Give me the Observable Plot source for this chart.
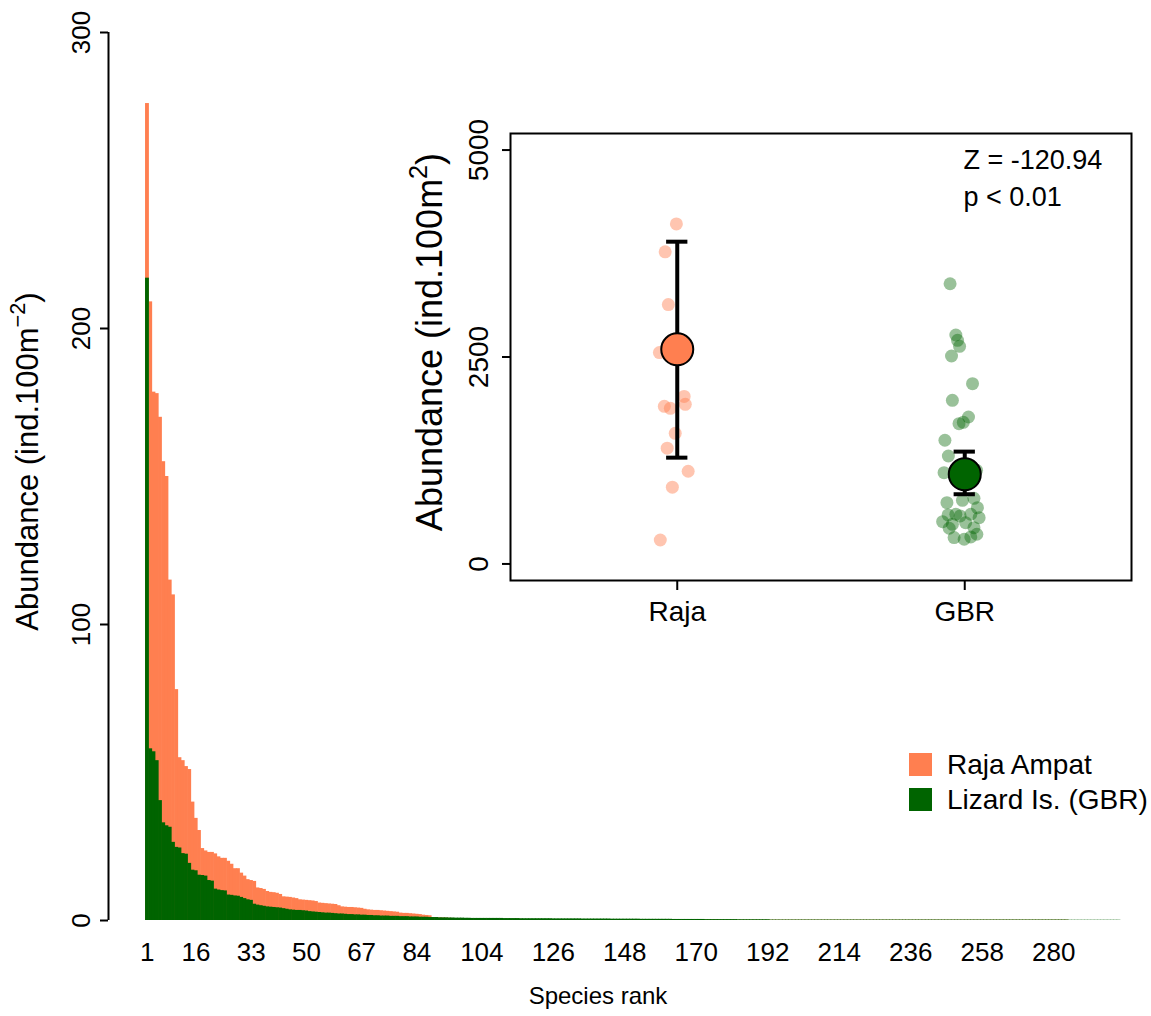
<!DOCTYPE html>
<html><head><meta charset="utf-8">
<script src="https://cdn.jsdelivr.net/npm/d3@7"></script>
<script src="https://cdn.jsdelivr.net/npm/@observablehq/plot@0.6"></script>
<style>
body{margin:0;background:#fff;}
#wrap{position:relative;width:1151px;height:1016px;font-family:"Liberation Sans",Arial,Helvetica,sans-serif;}
#wrap svg{position:absolute;left:0;top:0;}
#legend{position:absolute;left:909px;top:747px;font-size:28px;color:#000;}
#legend .row{display:flex;align-items:center;height:35px;}
#legend .sw{width:23px;height:23px;margin-right:15px;}
</style></head><body><div id="wrap"></div>
<script>
// ---------------- data ----------------
const rankTickLabels = [1, 16, 33, 50, 67, 84, 104, 126, 148, 170, 192, 214, 236, 258, 280];

const rajaAbundance = [
  276, 209, 178.5, 178, 170, 155, 150, 115, 110, 78,
  55, 54, 52, 51, 40, 34.5, 30.4, 24.3, 23.5, 23,
  23, 22.5, 21.5, 21, 21, 20, 19, 17.5, 17.5, 16,
  15, 13.8, 13.5, 13.2, 11, 10.8, 10.5, 9.8, 9.5, 9.4,
  9.2, 8.8, 8, 7.9, 7.8, 7.6, 7.4, 7, 6.9, 6.8,
  6.7, 6.6, 6.4, 5.9, 5.8, 5.7, 5.6, 5.5, 5.4, 5,
  4.6, 4.5, 4.4, 4.4, 4.3, 4.2, 4.1, 3.8, 3.6, 3.5,
  3.4, 3.4, 3.3, 3.2, 3.1, 3, 2.9, 2.8, 2.5, 2.4,
  2.4, 2.3, 2.2, 2.1, 2, 1.8, 1.7, 1.6, 1, 0.95,
  0.9, 0.85, 0.8, 0.75, 0.7, 0.65, 0.6, 0.6, 0.55, 0.55,
  0.5, 0.5, 0.5, 0.45, 0.45, 0.45, 0.4, 0.4, 0.4, 0.4,
  0.4, 0.4, 0.4, 0.4, 0.4, 0.4, 0.35, 0.35, 0.35, 0.35,
  0.35, 0.35, 0.35, 0.35, 0.35, 0.35, 0.3, 0.3, 0.3, 0.3,
  0.3, 0.3, 0.3, 0.3, 0.3, 0.3, 0.25, 0.25, 0.25, 0.25,
  0.25, 0.25, 0.25, 0.25, 0.25, 0.25, 0.2, 0.2, 0.2, 0.2,
  0.2, 0.2, 0.2, 0.2, 0.2, 0.2, 0.15, 0.15, 0.15, 0.15,
  0.15, 0.15, 0.15, 0.15, 0.15, 0.15, 0.15, 0.15, 0.15, 0.15,
  0.15, 0.15, 0.15, 0.15, 0.15, 0.15, 0.1, 0.1, 0.1, 0.1,
  0.1, 0.1, 0.1, 0.1, 0.1, 0.1, 0.1, 0.1, 0.1, 0.1,
  0.1, 0.1, 0.1, 0.1, 0.1, 0.1, 0.1, 0.1, 0.1, 0.1,
  0.1, 0.1, 0.1, 0.1, 0.1, 0.1, 0.1, 0.1, 0.1, 0.1,
  0.1, 0.1, 0.1, 0.1, 0.1, 0.1, 0.1, 0.1, 0.1, 0.1,
  0.1, 0.1, 0.1, 0.1, 0.1, 0.1, 0.1, 0.1, 0.1, 0.1,
  0.1, 0.1, 0.1, 0.1, 0.1, 0.1, 0.1, 0.1, 0.1, 0.1,
  0.1, 0.1, 0.1, 0.1, 0.1, 0.1, 0.1, 0.1, 0.1, 0.1,
  0.1, 0.1, 0.1, 0.1, 0.1, 0.1, 0.1, 0.1, 0.1, 0.1,
  0.1, 0.1, 0.1, 0.1, 0.1, 0.1, 0.1, 0.1, 0.1, 0.1,
  0.1, 0.1, 0.1, 0.1, 0.1, 0.1, 0.1, 0.1, 0.1, 0.1,
  0.1, 0.1, 0.1, 0.1, 0, 0, 0, 0, 0, 0,
  0, 0, 0, 0, 0, 0, 0, 0, 0, 0
];

const gbrAbundance = [
  217, 58, 57, 54, 40.5, 33, 32, 31.5, 26.4, 24.7,
  24.5, 22.6, 22.4, 19.3, 17, 16.8, 15.3, 15.2, 15, 13.5,
  13.3, 10.6, 10.3, 10.1, 10, 8.6, 8.5, 8.3, 8.2, 7.8,
  7.4, 7, 6.8, 5.5, 5.2, 5, 4.8, 4.6, 4.5, 4.4,
  4.3, 4.2, 4, 3.8, 3.6, 3.5, 3.4, 3.4, 3.3, 3.2,
  3, 2.9, 2.8, 2.7, 2.6, 2.5, 2.5, 2.4, 2.3, 2.2,
  2.2, 2.1, 2, 2, 1.9, 1.9, 1.8, 1.8, 1.7, 1.7,
  1.6, 1.6, 1.5, 1.5, 1.5, 1.4, 1.4, 1.4, 1.3, 1.3,
  1.3, 1.2, 1.2, 1.2, 1.1, 1.1, 1.1, 1, 1, 1,
  0.9, 0.9, 0.9, 0.85, 0.85, 0.8, 0.8, 0.8, 0.75, 0.75,
  0.7, 0.7, 0.7, 0.7, 0.7, 0.7, 0.7, 0.7, 0.7, 0.7,
  0.65, 0.65, 0.65, 0.65, 0.65, 0.6, 0.6, 0.6, 0.6, 0.6,
  0.6, 0.6, 0.6, 0.6, 0.6, 0.55, 0.55, 0.55, 0.55, 0.55,
  0.55, 0.55, 0.55, 0.55, 0.5, 0.5, 0.5, 0.5, 0.5, 0.5,
  0.5, 0.5, 0.5, 0.45, 0.45, 0.45, 0.45, 0.45, 0.45, 0.45,
  0.45, 0.45, 0.4, 0.4, 0.4, 0.4, 0.4, 0.4, 0.4, 0.4,
  0.4, 0.4, 0.35, 0.35, 0.35, 0.35, 0.35, 0.35, 0.35, 0.35,
  0.35, 0.35, 0.3, 0.3, 0.3, 0.3, 0.3, 0.3, 0.3, 0.3,
  0.3, 0.3, 0.25, 0.25, 0.25, 0.25, 0.25, 0.25, 0.25, 0.25,
  0.25, 0.25, 0.15, 0.15, 0.15, 0.15, 0.15, 0.15, 0.15, 0.15,
  0.15, 0.15, 0.15, 0.15, 0.15, 0.15, 0.15, 0.15, 0.15, 0.15,
  0.15, 0.15, 0.15, 0.15, 0.15, 0.15, 0.15, 0.15, 0.15, 0.15,
  0.15, 0.15, 0.15, 0.15, 0.15, 0.15, 0.15, 0.15, 0.15, 0.15,
  0.15, 0.15, 0.15, 0.15, 0.15, 0.15, 0.15, 0.15, 0.15, 0.15,
  0.15, 0.15, 0.15, 0.15, 0.15, 0.15, 0.15, 0.15, 0.15, 0.15,
  0.15, 0.15, 0.15, 0.15, 0.15, 0.15, 0.15, 0.15, 0.15, 0.15,
  0.15, 0.15, 0.15, 0.15, 0.15, 0.15, 0.15, 0.15, 0.15, 0.15,
  0.15, 0.15, 0.15, 0.15, 0.15, 0.15, 0.15, 0.15, 0.15, 0.15,
  0.15, 0.15, 0.15, 0.15, 0.08, 0.08, 0.08, 0.08, 0.08, 0.08,
  0.08, 0.08, 0.08, 0.08, 0.08, 0.08, 0.08, 0.08, 0.08, 0.08
];

const seriesNames = ["Raja Ampat", "Lizard Is. (GBR)"];
const seriesColors = ["#FF7F50", "#006400"];

// inset
const groupLabels = ["Raja", "GBR"];
const rajaSiteAbundance = [4108, 3771, 3133, 2554, 2024, 1904, 1880, 1928, 1578, 1398, 1120, 928, 289];
const rajaJitterX = [0.997, 0.958, 0.969, 0.938, 1.024, 0.955, 0.976, 1.028, 0.993, 0.965, 1.038, 0.983, 0.941];
const gbrSiteAbundance = [3385, 2766, 2702, 2629, 2512, 2178, 1977, 1775, 1711, 1695, 1494, 1304, 1103, 1132,
  740, 793, 769, 680, 600, 580, 592, 600, 559, 511, 479, 499, 438, 431, 359, 326, 318, 298];
const gbrJitterX = [1.949, 1.969, 1.975, 1.982, 1.954, 2.027, 1.957, 2.013, 1.995, 1.980, 1.931, 1.943, 1.928, 2.041,
  1.938, 2.032, 1.992, 2.044, 1.969, 1.984, 1.942, 2.021, 2.050, 1.923, 1.957, 2.003, 2.032, 1.946, 2.042, 2.021, 1.963, 1.998];
const groupMean = [2593, 1083];
const groupLower = [1284, 842];
const groupUpper = [3893, 1357];
const statsLines = ["Z = -120.94", "p < 0.01"];

// ---------------- build ----------------
const FONT = '"Liberation Sans", Arial, Helvetica, sans-serif';
const rajaRows = rajaAbundance.map((v, i) => ({rank: i + 1, value: v}));
const gbrRows = gbrAbundance.map((v, i) => ({rank: i + 1, value: v}));
const xDomain = [-11.4, 309.6];
const yMax = 300;

function superscriptify(svg, full, base, sup, tail, fs) {
  svg.querySelectorAll("text").forEach(t => {
    if (t.textContent === full) {
      while (t.firstChild) t.removeChild(t.firstChild);
      t.appendChild(document.createTextNode(base));
      const s = document.createElementNS("http://www.w3.org/2000/svg", "tspan");
      s.setAttribute("dy", (-0.42 * fs) + "px");
      s.setAttribute("font-size", (0.7 * fs) + "px");
      s.textContent = sup;
      t.appendChild(s);
      const r = document.createElementNS("http://www.w3.org/2000/svg", "tspan");
      r.setAttribute("dy", (0.42 * fs) + "px");
      r.textContent = tail;
      t.appendChild(r);
    }
  });
}

const main = Plot.plot({
  width: 1151, height: 1016,
  marginLeft: 108, marginRight: 0, marginTop: 32, marginBottom: 96,
  style: {fontFamily: FONT, background: "transparent", color: "#000"},
  x: {domain: xDomain, axis: null},
  y: {domain: [0, yMax], axis: null},
  marks: [
    Plot.rect(rajaRows, {x1: d => d.rank - 1, x2: d => d.rank, y1: d => 0, y2: "value", fill: seriesColors[0], insetRight: -0.6}),
    Plot.rect(gbrRows, {x1: d => d.rank - 1, x2: d => d.rank, y1: d => 0, y2: "value", fill: seriesColors[1], insetRight: -0.6}),
    Plot.ruleX([xDomain[0]], {y1: 0, y2: yMax, strokeWidth: 2}),
    Plot.axisY({ticks: [0, 100, 200, 300], tickSize: 8, tickPadding: 11, tickRotate: -90, fontSize: 26, strokeWidth: 2, label: null}),
    Plot.text(rankTickLabels, {x: d => d - 0.5, frameAnchor: "bottom", dy: 40, text: d => String(d), fontSize: 26}),
    Plot.text(["Species rank"], {frameAnchor: "bottom", dx: -32, dy: 83, text: d => d, fontSize: 24}),
    Plot.text(["Abundance (ind.100m−2)"], {frameAnchor: "left", textAnchor: "middle", rotate: -90, dx: -80, dy: -15, text: d => d, fontSize: 31})
  ]
});
superscriptify(main, "Abundance (ind.100m−2)", "Abundance (ind.100m", "−2", ")", 31);

const rajaPts = rajaSiteAbundance.map((v, i) => ({x: rajaJitterX[i], v}));
const gbrPts = gbrSiteAbundance.map((v, i) => ({x: gbrJitterX[i], v}));
const summary = groupLabels.map((g, i) => ({x: i + 1, mean: groupMean[i], lo: groupLower[i], hi: groupUpper[i], color: seriesColors[i]}));
const capHalf = 0.037;

const inset = Plot.plot({
  width: 1151, height: 1016,
  marginLeft: 510, marginRight: 20, marginTop: 133, marginBottom: 436,
  style: {fontFamily: FONT, background: "transparent", color: "#000"},
  x: {domain: [0.42, 2.58], axis: null},
  y: {domain: [-200, 5200], axis: null},
  color: {type: "identity"},
  marks: [
    Plot.frame({fill: "white", stroke: "black", strokeWidth: 2}),
    Plot.axisY({ticks: [0, 2500, 5000], tickFormat: d => String(d), tickSize: 8, tickPadding: 15, tickRotate: -90, fontSize: 28, strokeWidth: 2, label: null}),
    Plot.axisX({ticks: [1, 2], tickFormat: d => groupLabels[d - 1], tickSize: 10, tickPadding: 11, fontSize: 28, strokeWidth: 2, label: null}),
    Plot.dot(rajaPts, {x: "x", y: "v", r: 6.5, fill: seriesColors[0], fillOpacity: 0.45}),
    Plot.dot(gbrPts, {x: "x", y: "v", r: 6.5, fill: seriesColors[1], fillOpacity: 0.4}),
    Plot.ruleX(summary, {x: "x", y1: "lo", y2: "hi", strokeWidth: 4}),
    Plot.ruleY(summary, {x1: d => d.x - capHalf, x2: d => d.x + capHalf, y: "lo", strokeWidth: 4}),
    Plot.ruleY(summary, {x1: d => d.x - capHalf, x2: d => d.x + capHalf, y: "hi", strokeWidth: 4}),
    Plot.dot(summary, {x: "x", y: "mean", r: 16, fill: "color", stroke: "black", strokeWidth: 2}),
    Plot.text([statsLines.join("\n")], {frameAnchor: "top-right", textAnchor: "start", dx: -168, dy: 10, lineHeight: 1.35, text: d => d, fontSize: 27}),
    Plot.text(["Abundance (ind.100m2)"], {frameAnchor: "left", textAnchor: "middle", rotate: -90, dx: -80, dy: -15, text: d => d, fontSize: 36})
  ]
});
superscriptify(inset, "Abundance (ind.100m2)", "Abundance (ind.100m", "2", ")", 36);

const wrap = document.getElementById("wrap");
wrap.appendChild(main);
wrap.appendChild(inset);

const legend = document.createElement("div");
legend.id = "legend";
seriesNames.forEach((name, i) => {
  const row = document.createElement("div");
  row.className = "row";
  const sw = document.createElement("span");
  sw.className = "sw";
  sw.style.background = seriesColors[i];
  const lab = document.createElement("span");
  lab.textContent = name;
  row.appendChild(sw);
  row.appendChild(lab);
  legend.appendChild(row);
});
wrap.appendChild(legend);
</script></body></html>
